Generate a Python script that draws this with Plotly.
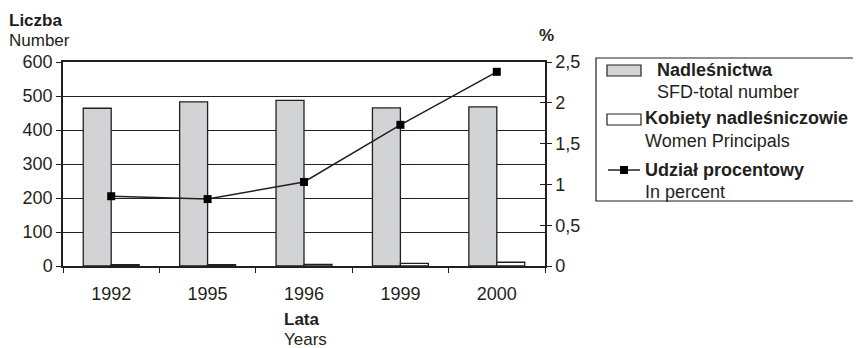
import plotly.graph_objects as go

# ---- data ----
years = ["1992", "1995", "1996", "1999", "2000"]
sfd_total = [464, 483, 487, 465, 468]
women_principals = [4, 4, 5, 8, 11]
percent_share = [0.855, 0.82, 1.03, 1.73, 2.38]

left_ticks = [0, 100, 200, 300, 400, 500, 600]
right_ticks = [0, 0.5, 1, 1.5, 2, 2.5]

# ---- layout geometry (screen pixels; page body has an 8px margin) ----
W, H = 861, 348
OFF = 8
PL, PR, PT, PB = 63, 545, 62, 266   # plot area on screen
ML = PL - OFF
MT = PT - OFF
PW = PR - PL
PH = PB - PT
MR = W - ML - PW
MB = H - MT - PH
INK = "#231f20"
FONT = "Liberation Sans, Arial, sans-serif"
FS = 18


def px2x(px):
    return (px - PL) / PW


def py2y(py):
    return (PB - py) / PH


fig = go.Figure()
fig.add_trace(go.Bar(x=years, y=sfd_total, name="Nadleśnictwa",
                     marker=dict(color="#d1d3d4", line=dict(color=INK, width=1.3))))
fig.add_trace(go.Bar(x=years, y=women_principals, name="Kobiety nadleśniczowie",
                     marker=dict(color="#ffffff", line=dict(color=INK, width=1.3))))
fig.add_trace(go.Scatter(x=years, y=percent_share, yaxis="y2", mode="lines+markers",
                         name="Udział procentowy",
                         line=dict(color=INK, width=1.5),
                         marker=dict(symbol="square", size=8, color="#000000")))
fig.add_trace(go.Scatter(x=[], y=[], yaxis="y3", showlegend=False))

fig.update_layout(
    width=W, height=H,
    margin=dict(l=ML, r=MR, t=MT, b=MB, pad=0),
    paper_bgcolor="white", plot_bgcolor="white",
    showlegend=False,
    separators=", ",
    barmode="group", bargap=0.42, bargroupgap=0,
    font=dict(family=FONT, size=FS, color=INK),
    xaxis=dict(type="category", showline=True, linecolor=INK, linewidth=1.5,
               mirror=True, ticks="outside", ticklen=5, tickcolor=INK,
               tickwidth=1.2, tickson="boundaries", showgrid=False,
               ticklabelstandoff=11,
               tickfont=dict(size=FS, color=INK)),
    yaxis=dict(range=[0, 600], tickvals=left_ticks, showline=True, linecolor=INK,
               linewidth=1.5, ticks="outside", ticklen=5, tickcolor=INK,
               tickwidth=1.2, showgrid=True, gridcolor=INK, gridwidth=1,
               zeroline=False, tickfont=dict(size=FS, color=INK)),
    yaxis2=dict(range=[0, 2.5], tickvals=right_ticks, overlaying="y", side="right",
                showline=True, linecolor=INK, linewidth=1.5, ticks="outside",
                ticklen=5, tickcolor=INK, tickwidth=1.2, showgrid=False,
                zeroline=False, tickfont=dict(size=FS, color=INK)),
    yaxis3=dict(range=[0, 2.5], tickvals=right_ticks, overlaying="y", side="right",
                anchor="x", showline=False, ticks="inside", ticklen=5,
                tickcolor=INK, tickwidth=1.2, showgrid=False, zeroline=False,
                showticklabels=False),
)

ann = []


def text(px, py, s, bold=False, anchor="left", size=FS):
    ann.append(dict(x=px2x(px), y=py2y(py), xref="paper", yref="paper",
                    text=f"<b>{s}</b>" if bold else s, showarrow=False,
                    xanchor=anchor, yanchor="middle",
                    font=dict(family=FONT, size=size, color=INK)))


text(7, 20, "Liczba", bold=True, size=17)
text(7, 41, "Number", size=17)
text(537, 35, "%", bold=True, size=17)
text(282, 319, "Lata", bold=True, size=17)
text(282, 339, "Years", size=17)

# legend
text(655, 70, "Nadleśnictwa", bold=True)
text(655, 92, "SFD-total number")
text(643, 118, "Kobiety nadleśniczowie", bold=True)
text(643, 141, "Women Principals")
text(643, 170, "Udział procentowy", bold=True)
text(643, 192, "In percent")
fig.update_layout(annotations=ann)

shapes = [
    dict(type="rect", xref="paper", yref="paper", x0=px2x(596), x1=px2x(859),
         y0=py2y(58), y1=py2y(201), line=dict(color=INK, width=1.2), fillcolor="white",
         layer="below"),
    dict(type="rect", xref="paper", yref="paper", x0=px2x(607), x1=px2x(641),
         y0=py2y(65), y1=py2y(76), line=dict(color=INK, width=1.2), fillcolor="#d1d3d4"),
    dict(type="rect", xref="paper", yref="paper", x0=px2x(607), x1=px2x(641),
         y0=py2y(114), y1=py2y(125), line=dict(color=INK, width=1.2), fillcolor="white"),
    dict(type="line", xref="paper", yref="paper", x0=px2x(608), x1=px2x(640),
         y0=py2y(170), y1=py2y(170), line=dict(color=INK, width=1.5)),
    dict(type="rect", xref="paper", yref="paper", x0=px2x(620), x1=px2x(628),
         y0=py2y(166), y1=py2y(174), line=dict(color="#000", width=0), fillcolor="#000"),
]
fig.update_layout(shapes=shapes)

fig.write_html("out.html")
